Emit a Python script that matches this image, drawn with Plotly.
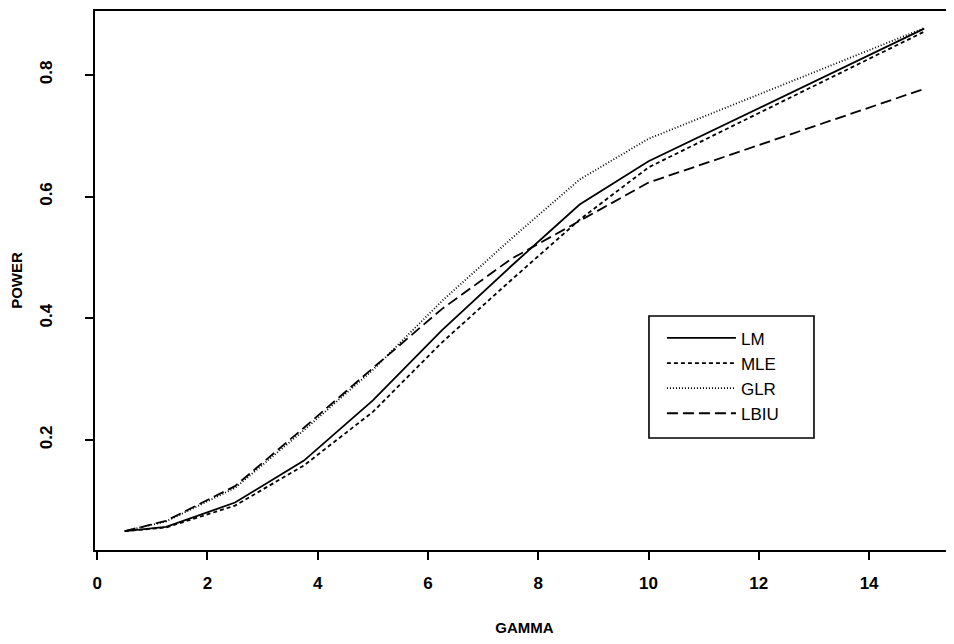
import plotly.graph_objects as go

gamma = [0.5, 1.25, 2.5, 3.75, 5, 6.25, 7.5, 8.75, 10, 15]
lm = [0.05, 0.057, 0.097, 0.166, 0.265, 0.38, 0.485, 0.587, 0.658, 0.876]
mle = [0.05, 0.056, 0.092, 0.158, 0.246, 0.36, 0.462, 0.562, 0.648, 0.871]
glr = [0.05, 0.066, 0.121, 0.216, 0.315, 0.428, 0.53, 0.628, 0.695, 0.877]
lbiu = [0.05, 0.067, 0.124, 0.22, 0.318, 0.415, 0.497, 0.56, 0.623, 0.777]

series = [("LM", lm, "solid"), ("MLE", mle, "4px,3px"),
          ("GLR", glr, "1px,2px"), ("LBIU", lbiu, "11px,5px")]

x_ticks = [0, 2, 4, 6, 8, 10, 12, 14]
y_ticks = [0.2, 0.4, 0.6, 0.8]

fig = go.Figure()
for name, vals, dash in series:
    fig.add_trace(go.Scatter(x=gamma, y=vals, mode="lines", name=name,
                             line=dict(color="black", width=1.8, dash=dash)))

font = "Liberation Sans, Arial, sans-serif"
fig.update_layout(
    width=946, height=636,
    margin=dict(l=87, r=0, t=3, b=94),
    paper_bgcolor="white", plot_bgcolor="white",
    font=dict(family=font, color="black", size=16),
    showlegend=True,
    legend=dict(x=0.660, y=0.426, xanchor="left", yanchor="top",
                borderwidth=0, bgcolor="rgba(0,0,0,0)",
                font=dict(size=17, family=font), itemwidth=69),
    shapes=[dict(type="rect", xref="paper", yref="paper",
                 x0=0.6449, x1=0.837, y0=0.2078, y1=0.4341,
                 line=dict(color="black", width=1.6), layer="above")],
    xaxis=dict(range=[-0.04, 15.54], tickvals=x_ticks, ticks="outside",
               ticklen=8, tickwidth=1.6, tickcolor="black", automargin=False,
               showline=True, linecolor="black", linewidth=1.6, mirror=True,
               showgrid=False, zeroline=False, ticklabelstandoff=9,
               tickfont=dict(size=17, weight="bold"),
               title=dict(text="GAMMA", font=dict(size=15, weight="bold"),
                          standoff=30)),
    yaxis=dict(range=[0.019, 0.905], tickvals=y_ticks, ticks="outside",
               ticklen=8, tickwidth=1.6, tickcolor="black", tickangle=-90,
               automargin=False,
               showline=True, linecolor="black", linewidth=1.6, mirror=True,
               showgrid=False, zeroline=False, ticklabelstandoff=26,
               tickfont=dict(size=17, weight="bold"),
               title=dict(text="POWER", font=dict(size=15, weight="bold"),
                          standoff=20)),
)

fig.write_html("out.html")
